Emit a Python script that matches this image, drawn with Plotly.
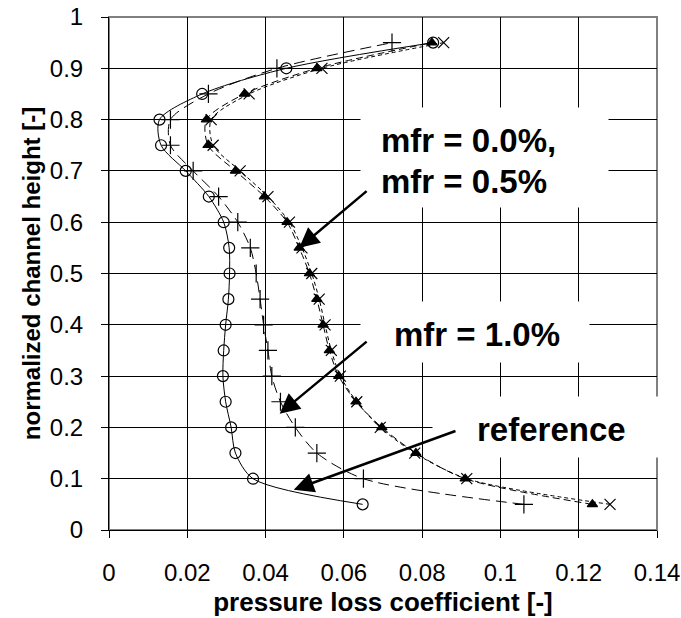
import plotly.graph_objects as go

# ---- data -------------------------------------------------------------
heights = [0.05, 0.10, 0.15, 0.20, 0.25, 0.30, 0.35, 0.40, 0.45, 0.50,
           0.55, 0.60, 0.65, 0.70, 0.75, 0.80, 0.85, 0.90, 0.95]

loss_reference = [0.0648, 0.0368, 0.0323, 0.0312, 0.0298, 0.0291, 0.0293, 0.0298, 0.0305, 0.0308,
                  0.0307, 0.0293, 0.0255, 0.0196, 0.0133, 0.0129, 0.0238, 0.0453, 0.0828]
loss_mfr10 = [0.1060, 0.0650, 0.0531, 0.0476, 0.0438, 0.0416, 0.0406, 0.0395, 0.0386, 0.0376,
              0.0361, 0.0329, 0.0280, 0.0215, 0.0157, 0.0157, 0.0254, 0.0429, 0.0723]
loss_mfr00 = [0.1235, 0.0910, 0.0784, 0.0697, 0.0631, 0.0587, 0.0563, 0.0547, 0.0531, 0.0512,
              0.0486, 0.0455, 0.0397, 0.0323, 0.0253, 0.0249, 0.0346, 0.0531, 0.0825]
loss_mfr05 = [0.1280, 0.0914, 0.0781, 0.0693, 0.0633, 0.0591, 0.0568, 0.0552, 0.0537, 0.0518,
              0.0493, 0.0461, 0.0406, 0.0335, 0.0266, 0.0261, 0.0358, 0.0544, 0.0855]

x_ticks = [0, 0.02, 0.04, 0.06, 0.08, 0.1, 0.12, 0.14]
x_tick_labels = ["0", "0.02", "0.04", "0.06", "0.08", "0.1", "0.12", "0.14"]
y_ticks = [0, 0.1, 0.2, 0.3, 0.4, 0.5, 0.6, 0.7, 0.8, 0.9, 1]
y_tick_labels = ["0", "0.1", "0.2", "0.3", "0.4", "0.5", "0.6", "0.7", "0.8", "0.9", "1"]

FONT = "Liberation Sans, Arial, sans-serif"

fig = go.Figure()

def add_series(x, name, symbol, size, dash):
    fig.add_trace(go.Scatter(
        x=x, y=heights, name=name, mode="lines+markers",
        line=dict(color="black", width=1, dash=dash, shape="spline", smoothing=0.8),
        marker=dict(symbol=symbol, size=size, color="black",
                    line=dict(color="black", width=1.2)),
        cliponaxis=False,
    ))

add_series(loss_mfr05, "mfr = 0.5%", "x-thin-open", 11, "4px,3px")
add_series(loss_mfr00, "mfr = 0.0%", "triangle-up", 9, "7px,4px")
add_series(loss_mfr10, "mfr = 1.0%", "cross-thin-open", 13, "11px,6px")
add_series(loss_reference, "reference", "circle-open", 11, "solid")

annotations = []
# white background boxes (cover grid lines behind labels)
for cx, cy, w, h in [(0.0960, 0.7267, 247, 99), (0.0936, 0.3866, 228, 60), (0.1125, 0.2014, 232, 60)]:
    annotations.append(dict(x=cx, y=cy, xref="x", yref="y", text=" ", showarrow=False,
                            width=w, height=h, bgcolor="white", borderpad=0,
                            xanchor="center", yanchor="middle"))
# arrows
for tx, ty, sx, sy in [(0.0486, 0.550, 0.0662, 0.663),
                       (0.0436, 0.2267, 0.0662, 0.3696),
                       (0.0472, 0.0785, 0.0889, 0.194)]:
    annotations.append(dict(x=tx, y=ty, ax=sx, ay=sy, xref="x", yref="y", axref="x", ayref="y",
                            text="", showarrow=True, arrowhead=2, arrowsize=1.6,
                            arrowwidth=2.5, arrowcolor="black", standoff=0))
# labels
for lx, ly, txt in [(0.0690, 0.759, "mfr = 0.0%,"), (0.0690, 0.679, "mfr = 0.5%"),
                    (0.0724, 0.381, "mfr = 1.0%"), (0.0936, 0.1955, "reference")]:
    annotations.append(dict(x=lx, y=ly, xref="x", yref="y", text="<b>" + txt + "</b>",
                            showarrow=False, xanchor="left", yanchor="middle",
                            font=dict(family=FONT, size=33, color="black")))

fig.update_layout(
    width=681, height=618,
    margin=dict(l=109, r=24, t=17, b=88),
    paper_bgcolor="white", plot_bgcolor="white",
    showlegend=False,
    font=dict(family=FONT, color="black"),
    annotations=annotations,
    shapes=[dict(type="rect", xref="paper", yref="paper", x0=0, y0=0, x1=1, y1=1,
                 line=dict(color="#808080", width=2), layer="between")],
)

fig.update_xaxes(
    range=[0, 0.14], tickvals=x_ticks, ticktext=x_tick_labels, automargin=False,
    showgrid=True, gridcolor="black", gridwidth=1, zeroline=False,
    showline=True, linecolor="black", linewidth=1,
    ticks="outside", ticklen=7, tickcolor="black", ticklabelstandoff=14,
    tickfont=dict(family=FONT, size=24, color="black"),
    title=dict(text="<b>pressure loss coefficient [-]</b>",
               font=dict(family=FONT, size=26, color="black"), standoff=8),
)
fig.update_yaxes(
    range=[0, 1], tickvals=y_ticks, ticktext=y_tick_labels, automargin=False,
    showgrid=True, gridcolor="black", gridwidth=1, zeroline=False,
    showline=True, linecolor="black", linewidth=1,
    ticks="outside", ticklen=7, tickcolor="black", ticklabelstandoff=13,
    tickfont=dict(family=FONT, size=24, color="black"),
    title=dict(text="<b>normalized channel height [-]</b>",
               font=dict(family=FONT, size=24, color="black"), standoff=2),
)

fig.write_html("out.html")
